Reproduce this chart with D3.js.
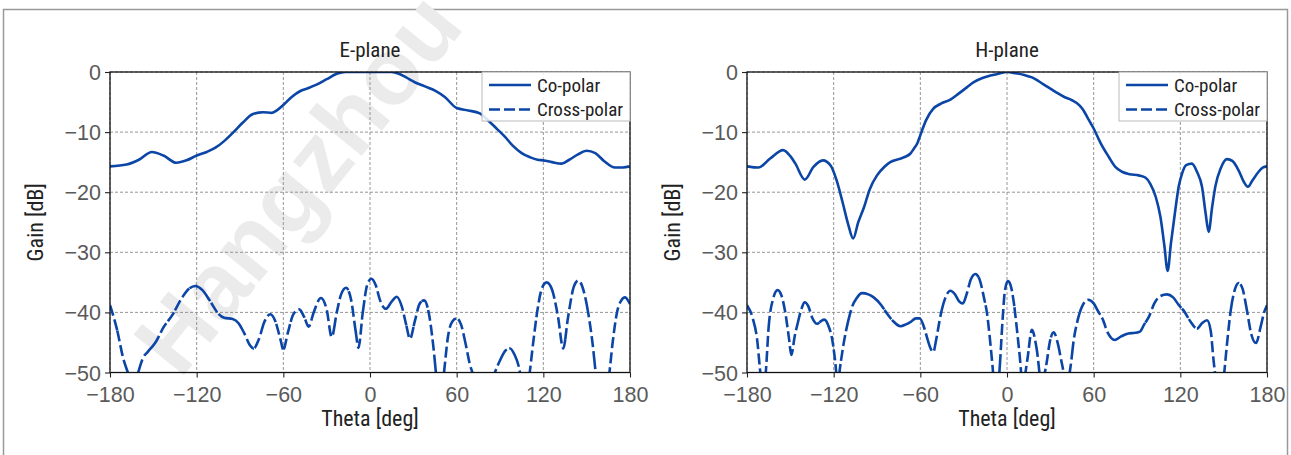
<!DOCTYPE html>
<html><head><meta charset="utf-8">
<script src="https://cdn.jsdelivr.net/npm/d3@7/dist/d3.min.js"></script>
<style>
html,body{margin:0;padding:0;background:#fff;}
svg{display:block;}
text{font-family:"Liberation Sans Narrow","Arial Narrow","Roboto Condensed",sans-serif;}
</style></head>
<body>
<svg id="chart" width="1291" height="455"></svg>
<script>
// ---------------- DATA ----------------
const xTicks = [-180, -120, -60, 0, 60, 120, 180];
const yTicks = [0, -10, -20, -30, -40, -50];
const panelTitles = ["E-plane", "H-plane"];
const legendLabels = ["Co-polar", "Cross-polar"];
const xLabel = "Theta [deg]";
const yLabel = "Gain [dB]";
const watermark = "Hangzhou";

// E-plane co-polar [theta, dB]
const eCoTheta = [-180,-168.5,-160,-151,-143,-134,-127,-120,-113,-107,-101,-94.5,-88,-81,-74,-68,-64,-60,-54,-48.5,-43,-37,-30,-23,-17,-11.5,-5,0,5,10,15,20,25,31,38,45,52,60,68,76,82,88,93.5,99,105,111,116,120,126,132.7,138,144,150,156,162,169.6,175,180];
const eCoGain  = [-15.7,-15.4,-14.6,-13.3,-13.9,-15.1,-14.7,-13.9,-13.3,-12.6,-11.5,-10.0,-8.4,-7.0,-6.7,-6.8,-6.3,-5.5,-4.1,-3.2,-2.7,-2.1,-1.2,-0.3,0,0,0,0,0,0,0,-0.3,-0.9,-1.7,-2.4,-3.1,-4.2,-6.0,-6.4,-6.9,-8.1,-9.5,-10.8,-12.3,-13.5,-14.2,-14.6,-14.7,-15.0,-15.25,-14.6,-13.7,-13.1,-13.5,-14.8,-15.9,-15.9,-15.7];

// E-plane cross-polar
const eXTheta = [-180,-175,-171,-167,-164,-160.5,-157,-154,-148,-143,-137,-130,-125,-121,-116,-111,-105,-101,-95,-91,-87,-83,-80.5,-77,-73,-69,-65.5,-62,-60,-57,-53,-49,-45.5,-42.5,-39,-34,-30,-26.5,-23,-20,-16.5,-13,-10,-8,-5,-2,1,4,7,11,15,18.5,22,25,27.7,31,34.5,37.5,41,44,46.5,48.5,51,54,57,60,63,66,69,71.5,79,86.5,90,94,97,100,103,105,107.5,110,113,116,119,122.3,126,130,133.8,137,141,144.2,148,151,154,156.5,161,165.5,168,171,174,176.5,180];
const eXGain  = [-38.8,-43,-47.5,-50.5,-53,-50,-47.5,-46.6,-44.8,-42.5,-40.5,-37.5,-36,-35.6,-36.3,-38,-40.2,-40.9,-41.1,-41.8,-43.5,-45.5,-46,-44.5,-41.5,-40.3,-41.5,-44.5,-46.2,-43.5,-40.3,-39.5,-40.8,-42.4,-40,-37.6,-39.5,-44.1,-40,-37,-35.9,-38,-43,-45.9,-40,-35.5,-34.4,-35.5,-38,-39.4,-38.2,-37.4,-39,-42,-44.4,-41.5,-38.5,-38,-40.5,-46,-52,-55,-50.5,-44,-41.5,-41,-42,-45,-48.5,-50.5,-58,-50,-48,-46.3,-46,-47,-49,-51.5,-54,-51,-45,-39.5,-36,-35,-36.2,-40.5,-46,-41,-35.8,-34.7,-36.5,-40,-45,-50.5,-55,-50.5,-45,-40,-38,-37.5,-38.6];

// H-plane co-polar
const hCoTheta = [-180,-172,-164,-155,-150,-146.5,-140,-134,-127.5,-122,-118,-114,-110,-106.5,-103,-99,-95,-90,-85,-80.8,-75,-70.4,-67,-64.6,-62,-60,-56,-51,-46,-39.2,-33.5,-28,-23,-17,-11.5,-6,0,6,12,17.3,25,33.5,40,45,50,53,56,60,65,70.4,75,79.6,85,91.2,96,99.2,103,106.2,109,111.2,113.5,116.5,119,121.2,124,128,131.5,135,137.5,139.6,142,144.2,148,152.3,156,160.4,164,166.8,170,174.2,177,180];
const hCoGain  = [-15.7,-15.9,-14.4,-13.0,-14.0,-15.25,-17.9,-15.8,-14.7,-15.6,-18.0,-21.5,-25.3,-27.7,-25.0,-22.5,-19.5,-17.2,-15.8,-15.0,-14.5,-14.1,-13.6,-12.8,-11.8,-10.5,-8.0,-6.1,-5.3,-4.6,-3.6,-2.6,-1.7,-1.0,-0.6,-0.3,0,-0.2,-0.5,-0.9,-2.0,-3.3,-4.2,-4.7,-5.5,-6.4,-7.7,-9.4,-11.9,-14.1,-15.8,-16.6,-17.0,-17.2,-17.6,-18.6,-20.8,-24.1,-29,-33.1,-28.5,-23.0,-18.9,-16.9,-15.5,-15.25,-16.6,-19.1,-23.5,-26.6,-22.5,-19.1,-16.0,-14.5,-14.8,-16.4,-18.3,-19.1,-18.0,-16.6,-15.9,-15.7];

// H-plane cross-polar
const hXTheta = [-180,-176,-173,-171,-169,-167,-165,-162,-158.8,-156,-153.5,-151,-149.3,-147,-145,-142,-140.1,-137.5,-135,-131.5,-128.5,-126.5,-123.5,-121,-119,-117.2,-115.5,-113.1,-110,-107.3,-104,-100.4,-96,-92.3,-87,-83.1,-79,-73.8,-70,-66.9,-63,-60.5,-57,-55,-52.5,-51,-49,-46,-43,-39.2,-36,-33,-30.5,-28,-25,-21.9,-19,-16,-13.8,-12,-10,-7.5,-5,-3,-1.5,0.6,2.5,4.5,6.5,8.5,11,14,17.3,20.5,24,27,30,32.3,35,38,41.5,44,46.2,49,52,56,60,63,66,70,74.5,79,84,88.8,92,95,98.1,102,106,110.8,115,119,122.3,127,131.5,135,138.5,141,143,144.5,147,150,152,155,158,160.4,163,166,169,172.4,175.5,178,180];
const hXGain  = [-38.8,-41,-44.5,-49.5,-54,-50,-42.4,-37.8,-36.3,-37.3,-40,-44.2,-47.1,-44,-41.9,-39.2,-38.3,-39,-40.8,-41.9,-41.4,-41.2,-42.3,-44.5,-48,-52,-49,-45.2,-41.5,-39.1,-37.6,-36.8,-37,-37.5,-38.8,-40.2,-41.4,-42.3,-42.0,-41.6,-41.0,-41,-42.8,-44.5,-46.2,-46.6,-44.5,-40.5,-37.8,-36.4,-37,-38.2,-38.5,-37,-34.5,-33.6,-34.5,-37.5,-40.2,-44,-49,-56,-49,-41,-36.5,-34.8,-35.5,-38,-42,-46.5,-52,-48,-42.9,-46,-52,-49,-44.5,-43.3,-45,-48.5,-52,-49,-44.6,-41.2,-39,-37.9,-38.5,-39.8,-41,-43.5,-44.6,-44,-43.5,-43.4,-43.2,-42,-40.8,-38.5,-37.3,-37,-37.5,-38.8,-39.7,-41.5,-42.7,-41.8,-41.3,-43,-48,-51,-56,-51,-46,-39.5,-36,-35.1,-36,-39.5,-43.5,-45.1,-42.5,-40,-38.8];

// ---------------- LAYOUT ----------------
const svg = d3.select("#chart");
const color = "#0b45a6";
const W = 520, H = 300.5;
const panels = [
  {x0:110, y0:72, title:panelTitles[0], co:[eCoTheta,eCoGain], cx:[eXTheta,eXGain]},
  {x0:747, y0:72, title:panelTitles[1], co:[hCoTheta,hCoGain], cx:[hXTheta,hXGain]}
];

// outer frame
svg.append("rect").attr("x",3.5).attr("y",9.5).attr("width",1284).attr("height",470)
  .attr("fill","none").attr("stroke","#999").attr("stroke-width",1.5);

// watermark
svg.append("text").text(watermark)
  .attr("transform","translate(180,380) rotate(-51)")
  .style("font-family","'Liberation Sans',Arial,sans-serif")
  .attr("font-weight","bold").attr("font-size",94).attr("fill","#ebebeb");

const x = d3.scaleLinear().domain([-180,180]).range([0,W]);
const y = d3.scaleLinear().domain([-50,0]).range([H,0]);

function buildDash(node, step, on, off){
  const total = node.getTotalLength();
  function lenAtX(px){
    let lo=0, hi=total;
    for(let i=0;i<30;i++){
      const mid=(lo+hi)/2;
      if(node.getPointAtLength(mid).x < px) lo=mid; else hi=mid;
    }
    return (lo+hi)/2;
  }
  const breaks=[0];
  for(let t=-180+step; t<180-1e-6; t+=step) breaks.push(lenAtX(x(t)));
  breaks.push(total);
  const pieces=[];
  const push=(type,len)=>{ if(len<=0) return;
    if(pieces.length && pieces[pieces.length-1][0]===type) pieces[pieces.length-1][1]+=len;
    else pieces.push([type,len]); };
  for(let i=0;i<breaks.length-1;i++){
    const s=breaks[i+1]-breaks[i]; let t=0;
    while(t<s){ const a=Math.min(on,s-t); push(1,a); t+=a; if(t>=s) break;
      const b=Math.min(off,s-t); push(0,b); t+=b; }
  }
  if(pieces[0][0]!==1) pieces.unshift([1,0]);
  if(pieces[pieces.length-1][0]===1) pieces.push([0,total]);
  return pieces.map(p=>p[1].toFixed(2)).join(",");
}

panels.forEach((p,pi)=>{
  const g = svg.append("g").attr("transform",`translate(${p.x0},${p.y0})`);
  const clipId = "clip"+pi;
  g.append("clipPath").attr("id",clipId).append("rect").attr("x",0).attr("y",0).attr("width",W).attr("height",H);

  // grid
  g.append("g").selectAll("line").data(xTicks).join("line")
    .attr("x1",d=>x(d)).attr("x2",d=>x(d)).attr("y1",0).attr("y2",H)
    .attr("stroke","#8a8a8a").attr("stroke-width",0.9).attr("stroke-dasharray","3,2");
  g.append("g").selectAll("line").data(yTicks).join("line")
    .attr("y1",d=>y(d)).attr("y2",d=>y(d)).attr("x1",0).attr("x2",W)
    .attr("stroke","#8a8a8a").attr("stroke-width",0.9).attr("stroke-dasharray","3,2");

  const line = d3.line().x(d=>x(d[0])).y(d=>y(d[1])).curve(d3.curveMonotoneX);
  const coPts = p.co[0].map((t,i)=>[t,p.co[1][i]]);
  const cxPts = p.cx[0].map((t,i)=>[t,p.cx[1][i]]);
  const lines = g.append("g").attr("clip-path",`url(#${clipId})`);
  lines.append("path").datum(coPts).attr("d",line).attr("fill","none")
    .attr("stroke",color).attr("stroke-width",2.6).attr("stroke-linejoin","round");
  const cp = lines.append("path").datum(cxPts).attr("d",line).attr("fill","none")
    .attr("stroke",color).attr("stroke-width",2.6).attr("stroke-linejoin","round");
  cp.attr("stroke-dasharray", buildDash(cp.node(), 5, 11, 4));

  // frame
  g.append("rect").attr("x",0).attr("y",0).attr("width",W).attr("height",H)
    .attr("fill","none").attr("stroke","#111").attr("stroke-width",1.3);

  // axes
  const fmt = d=>d<0?"\u2212"+Math.abs(d):d;
  const xa = g.append("g").attr("transform",`translate(0,${H})`)
    .call(d3.axisBottom(x).tickValues(xTicks).tickSize(5).tickPadding(4).tickFormat(fmt));
  const ya = g.append("g").call(d3.axisLeft(y).tickValues(yTicks).tickSize(5).tickPadding(4).tickFormat(fmt));
  [xa,ya].forEach(a=>{
    a.select(".domain").remove();
    a.selectAll(".tick line").attr("stroke","#222").attr("stroke-width",1.1);
    a.selectAll(".tick text").attr("fill","#5a5a5a").attr("font-size",21.5)
      .style("font-family","'Liberation Sans Narrow','Arial Narrow',sans-serif");
  });
  xa.selectAll(".tick text").attr("dy","0.95em");
  ya.selectAll(".tick text").attr("dy","0.35em");

  // titles
  g.append("text").text(p.title).attr("x",W/2).attr("y",-15).attr("text-anchor","middle")
    .attr("font-size",21).attr("fill","#222");
  g.append("text").text(xLabel).attr("x",W/2).attr("y",H+53).attr("text-anchor","middle")
    .attr("font-size",22).attr("fill","#222");
  g.append("text").text(yLabel).attr("transform",`translate(-67,${H/2}) rotate(-90)`)
    .attr("text-anchor","middle").attr("font-size",22).attr("fill","#222");

  // legend
  const lg = g.append("g").attr("transform",`translate(${W-148},0)`);
  lg.append("rect").attr("x",0).attr("y",0).attr("width",148).attr("height",49)
    .attr("fill","#fff").attr("fill-opacity",0.85).attr("stroke","#bbb").attr("stroke-width",1);
  [0,1].forEach(i=>{
    const ly = 13 + i*24.5;
    lg.append("line").attr("x1",7).attr("x2",49).attr("y1",ly).attr("y2",ly)
      .attr("stroke",color).attr("stroke-width",2.6).attr("stroke-dasharray",i? "11,4":null);
    lg.append("text").text(legendLabels[i]).attr("x",55).attr("y",ly+6.5)
      .attr("font-size",19).attr("fill","#222");
  });
});
</script>
</body></html>
